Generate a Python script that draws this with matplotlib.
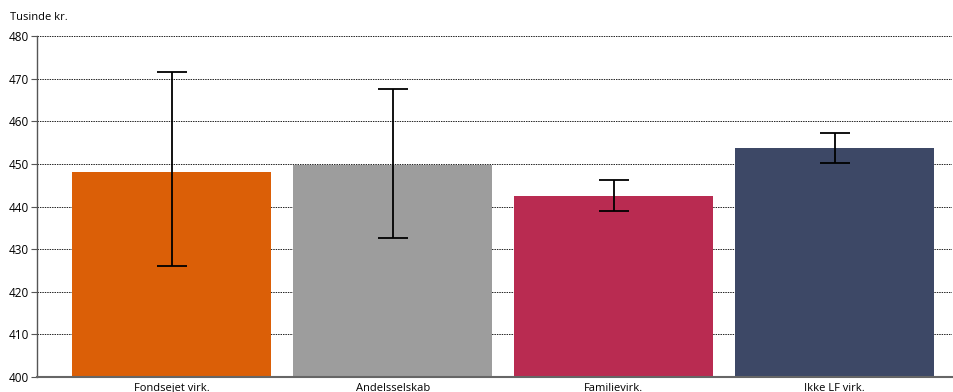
import matplotlib
matplotlib.use("Agg")
import matplotlib.pyplot as plt
import numpy as np

categories = ["Fondsejet virk.", "Andelsselskab", "Familievirk.", "Ikke LF virk."]
values = [448.1, 449.8, 442.5, 453.7]
ci_low = [426.0, 432.6, 438.9, 450.2]
ci_high = [471.5, 467.6, 446.2, 457.2]
colors = ["#DB5F07", "#9D9D9D", "#B92B51", "#3D4866"]
yticks = [400, 410, 420, 430, 440, 450, 460, 470, 480]

plt.rcParams["font.family"] = ["Open Sans", "DejaVu Sans"]

fig = plt.figure(figsize=(9.54, 3.92), dpi=100)
ax = fig.add_axes([37 / 954, 1 - 377 / 392, (952 - 37) / 954, (377 - 36) / 392])

x = np.arange(len(categories))
vals = np.array(values)
yerr = np.array([vals - np.array(ci_low), np.array(ci_high) - vals])

ax.bar(x, vals - 400, bottom=400, width=0.9, color=colors, zorder=2)
ax.errorbar(x, vals, yerr=yerr, fmt="none", ecolor="black", elinewidth=1.3,
            capsize=11, capthick=1.3, zorder=3)

ax.set_ylim(400, 480)
ax.set_xlim(-0.609, 3.53)
ax.set_yticks(yticks)
ax.set_yticklabels([str(t) for t in yticks], fontsize=8.5)
ax.yaxis.grid(True, linestyle=(0, (1.5, 1)), color="#222222", linewidth=0.7, zorder=1)
ax.set_axisbelow(True)

for s in ["top", "right"]:
    ax.spines[s].set_visible(False)
ax.spines["left"].set_color("#555555")
ax.spines["bottom"].set_color("#666666")
ax.spines["left"].set_linewidth(1.0)
ax.spines["bottom"].set_linewidth(1.5)
ax.tick_params(axis="y", direction="out", length=4, width=0.8, color="#555555", pad=2)
ax.tick_params(axis="x", length=0, pad=4)
ax.set_xticks(x)
ax.set_xticklabels(categories, fontsize=8)

fig.text(10 / 954, 1 - 18 / 392, "Tusinde kr.", fontsize=8, va="center", ha="left")

fig.savefig("out.png", dpi=100)
